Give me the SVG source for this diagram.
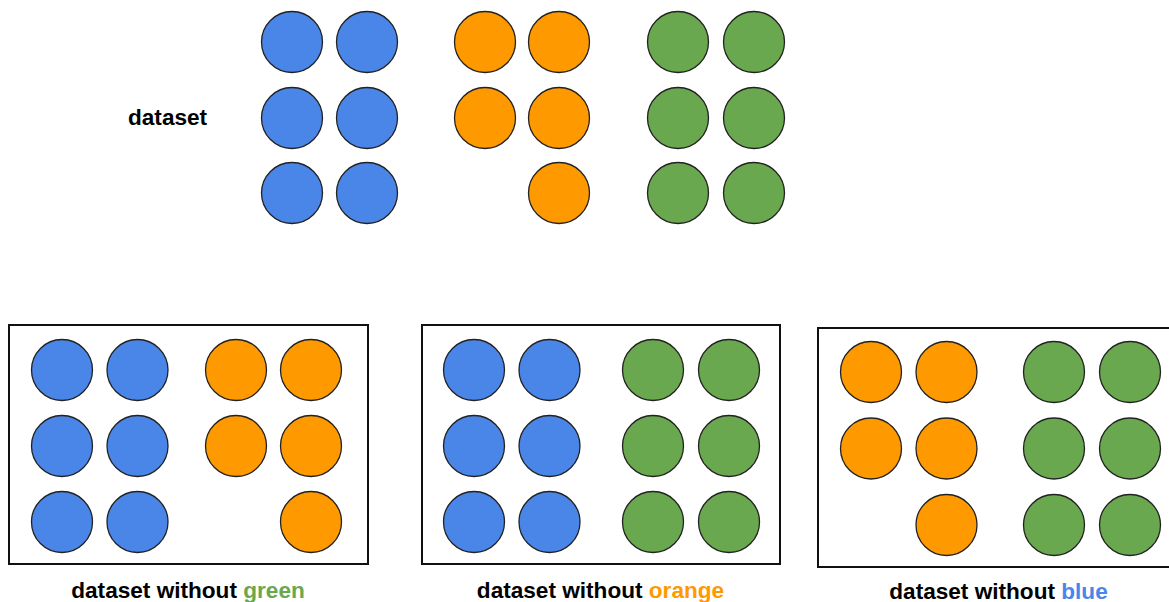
<svg xmlns="http://www.w3.org/2000/svg" width="1169" height="602" viewBox="0 0 1169 602">
<style>
.b{fill:#4a86e8;stroke:#222;stroke-width:1.3}
.o{fill:#ff9900;stroke:#222;stroke-width:1.3}
.g{fill:#6aa84f;stroke:#222;stroke-width:1.3}
.box{fill:#fff;stroke:#111;stroke-width:2}
.t{font-family:"Liberation Sans",Arial,sans-serif;font-weight:bold;font-size:22.6px;fill:#000}
</style>
<rect width="1169" height="602" fill="#fff"/>
<g id="dataset">
<text class="t" x="128" y="125">dataset</text>
<circle class="b" cx="292" cy="42" r="30.5"/><circle class="b" cx="367" cy="42" r="30.5"/>
<circle class="b" cx="292" cy="118" r="30.5"/><circle class="b" cx="367" cy="118" r="30.5"/>
<circle class="b" cx="292" cy="193" r="30.5"/><circle class="b" cx="367" cy="193" r="30.5"/>
<circle class="o" cx="485" cy="42" r="30.5"/><circle class="o" cx="559" cy="42" r="30.5"/>
<circle class="o" cx="485" cy="118" r="30.5"/><circle class="o" cx="559" cy="118" r="30.5"/>
<circle class="o" cx="559" cy="193" r="30.5"/>
<circle class="g" cx="678" cy="42" r="30.5"/><circle class="g" cx="754" cy="42" r="30.5"/>
<circle class="g" cx="678" cy="118" r="30.5"/><circle class="g" cx="754" cy="118" r="30.5"/>
<circle class="g" cx="678" cy="193" r="30.5"/><circle class="g" cx="754" cy="193" r="30.5"/>
</g>
<g id="without-green">
<rect class="box" x="9" y="325" width="359" height="239"/>
<circle class="b" cx="62" cy="370" r="30.5"/><circle class="b" cx="137.5" cy="370" r="30.5"/>
<circle class="b" cx="62" cy="446" r="30.5"/><circle class="b" cx="137.5" cy="446" r="30.5"/>
<circle class="b" cx="62" cy="522" r="30.5"/><circle class="b" cx="137.5" cy="522" r="30.5"/>
<circle class="o" cx="236" cy="370" r="30.5"/><circle class="o" cx="311" cy="370" r="30.5"/>
<circle class="o" cx="236" cy="446" r="30.5"/><circle class="o" cx="311" cy="446" r="30.5"/>
<circle class="o" cx="311" cy="522" r="30.5"/>
<text class="t" x="188" y="597.5" text-anchor="middle">dataset without <tspan fill="#6aa84f">green</tspan></text>
</g>
<g id="without-orange">
<rect class="box" x="422" y="325" width="358" height="239"/>
<circle class="b" cx="474" cy="370" r="30.5"/><circle class="b" cx="549.5" cy="370" r="30.5"/>
<circle class="b" cx="474" cy="446" r="30.5"/><circle class="b" cx="549.5" cy="446" r="30.5"/>
<circle class="b" cx="474" cy="522" r="30.5"/><circle class="b" cx="549.5" cy="522" r="30.5"/>
<circle class="g" cx="653" cy="370" r="30.5"/><circle class="g" cx="729" cy="370" r="30.5"/>
<circle class="g" cx="653" cy="446" r="30.5"/><circle class="g" cx="729" cy="446" r="30.5"/>
<circle class="g" cx="653" cy="522" r="30.5"/><circle class="g" cx="729" cy="522" r="30.5"/>
<text class="t" x="600.5" y="598" text-anchor="middle">dataset without <tspan fill="#ff9900">orange</tspan></text>
</g>
<g id="without-blue">
<rect class="box" x="818" y="328" width="360" height="239"/>
<circle class="o" cx="871" cy="372" r="30.5"/><circle class="o" cx="946.5" cy="372" r="30.5"/>
<circle class="o" cx="871" cy="448.5" r="30.5"/><circle class="o" cx="946.5" cy="448.5" r="30.5"/>
<circle class="o" cx="946.5" cy="525" r="30.5"/>
<circle class="g" cx="1054" cy="372" r="30.5"/><circle class="g" cx="1130" cy="372" r="30.5"/>
<circle class="g" cx="1054" cy="448.5" r="30.5"/><circle class="g" cx="1130" cy="448.5" r="30.5"/>
<circle class="g" cx="1054" cy="525" r="30.5"/><circle class="g" cx="1130" cy="525" r="30.5"/>
<text class="t" x="998.5" y="599" text-anchor="middle">dataset without <tspan fill="#4a86e8">blue</tspan></text>
</g>
<g id="connectors"/>
</svg>
